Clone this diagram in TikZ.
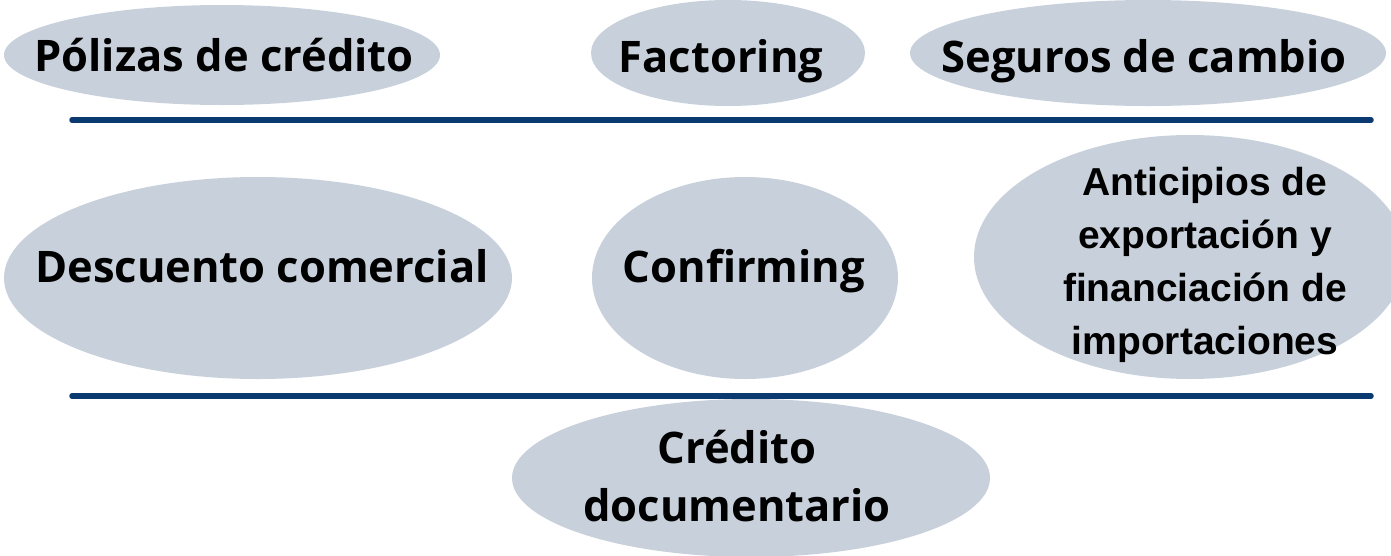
\documentclass[tikz,border=0pt]{standalone}
\usepackage{fontspec}
\setmainfont{Open Sans}
\newfontfamily\arialbold{Liberation Sans}[BoldFont={* Bold}]
\usetikzlibrary{shapes.geometric}
\definecolor{ovalfill}{HTML}{C8D1DB}
\definecolor{navyline}{HTML}{0B3A70}
\begin{document}
\begin{tikzpicture}[x=1pt,y=-1pt,
  oval/.style={ellipse,fill=ovalfill,draw=none,inner sep=0pt},
  lbl/.style={font=\fontsize{43.5}{58}\selectfont\bfseries,text=black,align=center,inner sep=0pt},
  lblb/.style={font=\arialbold\fontsize{39}{53}\selectfont\bfseries,text=black,align=center,inner sep=0pt},
  divider/.style={line width=5.5pt,navyline,line cap=round}]
\useasboundingbox (0,0) rectangle (1391,555);
% top row
\node[oval,minimum width=436pt,minimum height=100pt] (e1) at (222,55) {};
\node[oval,minimum width=274pt,minimum height=106pt] (e2) at (728,53) {};
\node[oval,minimum width=476pt,minimum height=106pt] (e3) at (1148,53) {};
\node[lbl,anchor=base] (t1) at (224,71) {Pólizas de crédito};
\node[lbl,anchor=base] (t2) at (721,72) {Factoring};
\node[lbl,anchor=base] (t3) at (1144,72) {Seguros de cambio};
% divider 1
\coordinate (d1a) at (72,120);
\coordinate (d1b) at (1371,120);
\draw[divider] (d1a) -- (d1b);
% middle row
\node[oval,minimum width=508pt,minimum height=202pt] (e4) at (258,278) {};
\node[oval,minimum width=306pt,minimum height=202pt] (e5) at (745,278) {};
\node[oval,minimum width=432pt,minimum height=244pt] (e6) at (1190,257) {};
\node[lbl,anchor=base] (t4) at (262,282) {Descuento comercial};
\node[lbl,anchor=base] (t5) at (744,282) {Confirming};
\node[lblb] (t6) at (1205,265) {Anticipios de\\exportación y\\financiación de\\importaciones};
% divider 2
\coordinate (d2a) at (72,396);
\coordinate (d2b) at (1371,396);
\draw[divider] (d2a) -- (d2b);
% bottom
\node[oval,minimum width=478pt,minimum height=158pt] (e7) at (751,478) {};
\node[lbl] (t7) at (737,476) {Crédito\\documentario};
\end{tikzpicture}
\end{document}
